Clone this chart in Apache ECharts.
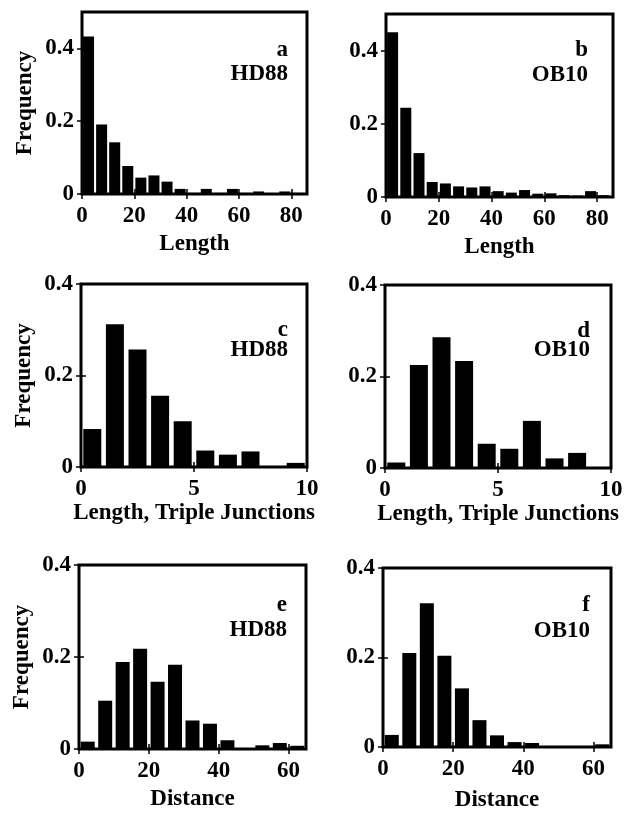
<!DOCTYPE html>
<html><head><meta charset="utf-8">
<script src="https://cdn.jsdelivr.net/npm/echarts@6/dist/echarts.min.js"></script>
<style>html,body{margin:0;padding:0;background:#fff}#c{width:637px;height:813px}</style>
</head><body><div id="c"></div>
<script>
// ---------- data ----------
const lengthBins = [2.5,7.5,12.5,17.5,22.5,27.5,32.5,37.5,42.5,47.5,52.5,57.5,62.5,67.5,72.5,77.5,82.5];
const tripleBins = [0.5,1.5,2.5,3.5,4.5,5.5,6.5,7.5,8.5,9.5];
const distanceBins = [2.5,7.5,12.5,17.5,22.5,27.5,32.5,37.5,42.5,47.5,52.5,57.5,62.5];

const freqA_HD88 = [0.433,0.191,0.142,0.077,0.045,0.051,0.034,0.014,0.003,0.014,0.003,0.014,0.003,0.007,0.002,0.007,0.003];
const freqB_OB10 = [0.450,0.244,0.120,0.041,0.037,0.029,0.026,0.029,0.016,0.012,0.019,0.009,0.010,0.005,0.004,0.016,0.005];
const freqC_HD88 = [0.083,0.312,0.257,0.156,0.100,0.036,0.027,0.034,0.000,0.009];
const freqD_OB10 = [0.012,0.225,0.286,0.234,0.053,0.042,0.103,0.021,0.033,0.000];
const freqE_HD88 = [0.016,0.105,0.189,0.218,0.146,0.183,0.062,0.055,0.019,0.001,0.008,0.013,0.007];
const freqF_OB10 = [0.027,0.210,0.321,0.204,0.131,0.060,0.026,0.011,0.009,0.002,0.002,0.002,0.006];

const panelLetters = ['a','b','c','d','e','f'];
const panelSamples = ['HD88','OB10','HD88','OB10','HD88','OB10'];
const xAxisNames = ['Length','Length','Length, Triple Junctions','Length, Triple Junctions','Distance','Distance'];
const yAxisName = 'Frequency';
const yTickValues = [0, 0.2, 0.4];
const lengthTicks = [0, 20, 40, 60, 80];
const tripleTicks = [0, 5, 10];
const distanceTicks = [0, 20, 40, 60];
const xTickSteps = [20, 20, 5, 5, 20, 20];
const xMaxes = [86, 86, 10, 10, 65, 65];
const yMaxes = [0.5, 0.5, 0.4, 0.4, 0.4, 0.4];

const panelXTicks = [lengthTicks, lengthTicks, tripleTicks, tripleTicks, distanceTicks, distanceTicks];
const panelBins = [lengthBins, lengthBins, tripleBins, tripleBins, distanceBins, distanceBins];
const panelFreqs = [freqA_HD88, freqB_OB10, freqC_HD88, freqD_OB10, freqE_HD88, freqF_OB10];

// ---------- layout ----------
const boxes = [
  {left:82, top:12, width:225, height:182, barW:11, nameGap:39, lab:[38,62], labR:288},
  {left:386, top:14, width:227, height:183, barW:11, nameGap:39, lab:[36,61], labR:588},
  {left:81, top:284, width:226, height:183, barW:18, nameGap:33, lab:[46,66], labR:288},
  {left:385, top:285, width:226, height:183, barW:18, nameGap:33, lab:[46,65], labR:590},
  {left:79, top:565, width:227, height:184, barW:14, nameGap:39, lab:[40,65], labR:287},
  {left:383, top:568, width:228, height:183, barW:14, nameGap:42, lab:[37,63], labR:590}
];

const FONT = 'Liberation Serif';
const FS = 23;
const txt = {fontFamily: FONT, fontWeight: 'bold', fontSize: FS, color: '#000'};

const grid = [], xAxis = [], yAxis = [], series = [], graphic = [];
boxes.forEach((b, i) => {
  grid.push({left:b.left, top:b.top, width:b.width, height:b.height, show:true,
    borderColor:'#000', borderWidth:3, backgroundColor:'transparent', containLabel:false});
  const xt = {show:true, inside:true, length:5, customValues:panelXTicks[i], lineStyle:{color:'#000', width:1.5}};
  const yt = {show:true, inside:true, length:5, customValues:yTickValues, lineStyle:{color:'#000', width:1.5}};
  xAxis.push({type:'value', gridIndex:i, min:0, max:xMaxes[i], interval:xTickSteps[i], position:'bottom',
    axisLine:{show:false}, splitLine:{show:false}, axisTick:xt,
    axisLabel:Object.assign({margin:11, customValues:panelXTicks[i]}, txt),
    name:xAxisNames[i], nameLocation:'middle', nameGap:b.nameGap, nameTextStyle:txt});
  xAxis.push({type:'value', gridIndex:i, min:0, max:xMaxes[i], interval:xTickSteps[i], position:'top',
    axisLine:{show:false}, splitLine:{show:false}, axisTick:xt, axisLabel:{show:false}});
  const yl = {type:'value', gridIndex:i, min:0, max:yMaxes[i], interval:0.2, position:'left',
    axisLine:{show:false}, splitLine:{show:false}, axisTick:yt,
    axisLabel:Object.assign({margin:8, customValues:yTickValues}, txt)};
  if (i % 2 === 0) {
    Object.assign(yl, {name:yAxisName, nameLocation:'middle', nameGap:45, nameTextStyle:txt});
  }
  yAxis.push(yl);
  yAxis.push({type:'value', gridIndex:i, min:0, max:yMaxes[i], interval:0.2, position:'right',
    axisLine:{show:false}, splitLine:{show:false}, axisTick:yt, axisLabel:{show:false}});
  series.push({type:'bar', xAxisIndex:2*i, yAxisIndex:2*i, barWidth:b.barW,
    itemStyle:{color:'#000'}, silent:true, animation:false,
    data: panelBins[i].map((x, k) => [x, panelFreqs[i][k]])});
  graphic.push({type:'text', x:b.labR, y:b.top + b.lab[0],
    style:{text:panelLetters[i], align:'right', verticalAlign:'middle', font:`bold ${FS}px "${FONT}"`, fill:'#000'}});
  graphic.push({type:'text', x:b.labR, y:b.top + b.lab[1],
    style:{text:panelSamples[i], align:'right', verticalAlign:'middle', font:`bold ${FS}px "${FONT}"`, fill:'#000'}});
});

const chart = echarts.init(document.getElementById('c'), null, {renderer:'canvas'});
chart.setOption({animation:false, backgroundColor:'#fff', grid, xAxis, yAxis, series, graphic});
</script>
</body></html>
